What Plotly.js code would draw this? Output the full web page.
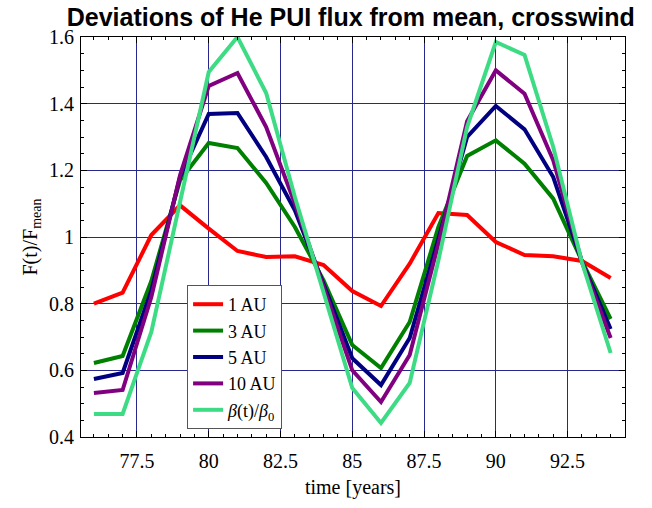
<!DOCTYPE html>
<html>
<head>
<meta charset="utf-8">
<script src="https://cdn.plot.ly/plotly-3.0.1.min.js"></script>
<style>html,body{margin:0;padding:0;background:#fff;}</style>
</head>
<body>
<div id="chart" style="width:652px;height:508px;"></div>
<script>
const years = [76,77,78,79,80,81,82,83,84,85,86,87,88,89,90,91,92,93,94];
const au1  = [0.800,0.833,1.006,1.095,1.025,0.958,0.940,0.942,0.916,0.838,0.793,0.920,1.072,1.066,0.985,0.946,0.942,0.928,0.877];
const au3  = [0.622,0.643,0.868,1.170,1.282,1.267,1.162,1.030,0.870,0.676,0.607,0.745,1.030,1.243,1.290,1.220,1.115,0.928,0.754];
const au5  = [0.574,0.592,0.840,1.180,1.369,1.372,1.240,1.080,0.858,0.636,0.556,0.697,0.995,1.300,1.393,1.323,1.180,0.926,0.724];
const au10 = [0.532,0.541,0.820,1.185,1.453,1.492,1.330,1.100,0.850,0.600,0.505,0.646,0.980,1.347,1.500,1.430,1.230,0.925,0.697];
const beta = [0.469,0.469,0.715,1.110,1.495,1.600,1.432,1.120,0.830,0.547,0.442,0.562,0.930,1.330,1.585,1.546,1.270,0.924,0.652];
const seriesNames = ["1 AU","3 AU","5 AU","10 AU","<i>β</i>(t)/<i>β</i><sub>0</sub>"];
const seriesData = [au1, au3, au5, au10, beta];
const seriesColors = ["#ff0000","#008000","#000080","#800080","#3ddc84"];

const traces = seriesData.map((ys, i) => ({
  x: years, y: ys, type: "scatter", mode: "lines",
  name: seriesNames[i],
  line: {color: seriesColors[i], width: 4}
}));

const serif = "Liberation Serif, Times New Roman, serif";
const gridCol = "rgb(40,40,140)";
const layout = {
  width: 652, height: 508,
  margin: {l: 81, r: 27, t: 37, b: 71},
  paper_bgcolor: "#fff", plot_bgcolor: "#fff",
  title: {
    text: "<b>Deviations of He PUI flux from mean, crosswind</b>",
    font: {family: "Liberation Sans, Arial, sans-serif", size: 25, color: "#000"},
    x: 0.538, xanchor: "center", y: 0.967, yanchor: "middle", yref: "container"
  },
  showlegend: true,
  legend: {
    x: 0.195, y: 0.38, xanchor: "left", yanchor: "top",
    bgcolor: "#fff", bordercolor: "#555", borderwidth: 1,
    font: {family: serif, size: 18, color: "#000"},
    itemwidth: 30, tracegroupgap: 0
  },
  xaxis: {
    range: [75.55, 94.5],
    tick0: 77.5, dtick: 2.5,
    showgrid: true, gridcolor: gridCol, gridwidth: 1,
    zeroline: false,
    showline: true, linecolor: "#000", linewidth: 1, mirror: "allticks",
    ticks: "inside", ticklen: 6, tickcolor: "#000",
    ticklabelstandoff: 6,
    minor: {dtick: 0.5, ticks: "inside", ticklen: 3, tickcolor: "#000", showgrid: false},
    tickfont: {family: serif, size: 20, color: "#000"},
    title: {text: "time [years]", font: {family: serif, size: 20, color: "#000"}, standoff: 8}
  },
  yaxis: {
    range: [0.4, 1.6],
    tick0: 0.4, dtick: 0.2,
    showgrid: true, gridcolor: gridCol, gridwidth: 1,
    zeroline: false,
    showline: true, linecolor: "#000", linewidth: 1, mirror: "allticks",
    ticks: "inside", ticklen: 6, tickcolor: "#000",
    ticklabelstandoff: 2,
    minor: {dtick: 0.05, ticks: "inside", ticklen: 3, tickcolor: "#000", showgrid: false},
    tickfont: {family: serif, size: 20, color: "#000"},
    title: {text: "F(t)/F<sub>mean</sub>", font: {family: serif, size: 20, color: "#000"}, standoff: 6}
  }
};

Plotly.newPlot("chart", traces, layout, {displayModeBar: false, staticPlot: true});
</script>
</body>
</html>
